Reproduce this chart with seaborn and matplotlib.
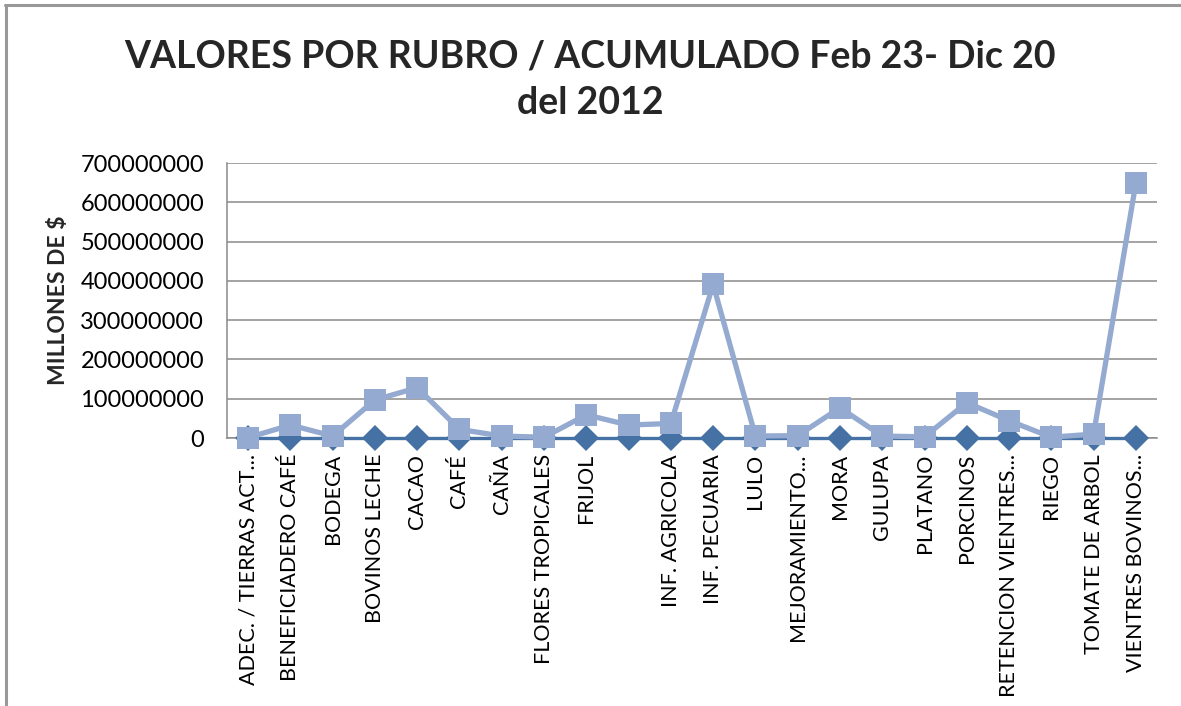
import pandas as pd
import matplotlib.pyplot as plt
import matplotlib.lines as mlines
import seaborn as sns

# ==================================================
# DATA
# ==================================================

categories = [
    "ADEC. / TIERRAS ACT...", "BENEFICIADERO CAFÉ", "BODEGA", "BOVINOS LECHE",
    "CACAO", "CAFÉ", "CAÑA", "FLORES TROPICALES", "FRIJOL", "",
    "INF. AGRICOLA", "INF. PECUARIA", "LULO", "MEJORAMIENTO...", "MORA",
    "GULUPA", "PLATANO", "PORCINOS", "RETENCION VIENTRES...", "RIEGO",
    "TOMATE DE ARBOL", "VIENTRES BOVINOS...",
]

serie_rombos = [0] * 22

serie_cuadros = [
    1000000, 33000000, 5000000, 97000000, 128000000, 22000000, 5000000,
    2000000, 59000000, 33000000, 37000000, 391000000, 5000000, 6000000,
    77000000, 5000000, 3000000, 90000000, 44000000, 2000000, 10000000,
    650000000,
]

y_ticks = [0, 100000000, 200000000, 300000000, 400000000, 500000000,
           600000000, 700000000]

titulo = "VALORES POR RUBRO / ACUMULADO Feb 23- Dic 20\ndel 2012"
ylabel = "MILLONES DE $"

df = pd.DataFrame({
    "pos": range(len(categories)),
    "rubro": categories,
    "rombos": serie_rombos,
    "cuadros": serie_cuadros,
})

# ==================================================
# STYLE
# ==================================================

sns.set_style("white")
plt.rcParams["font.family"] = ["Lato", "DejaVu Sans"]

color_rombos = "#4671A5"
color_cuadros = "#94AAD0"
gris = "#8A8A8A"

fig = plt.figure(figsize=(11.81, 7.06), dpi=100)
ax = fig.add_axes([0.1922, 0.3796, 0.7875, 0.3894])

sns.lineplot(
    data=df, x="pos", y="rombos", ax=ax,
    color=color_rombos, linewidth=2.4,
    marker="D", markersize=13, markeredgewidth=0,
    zorder=3, clip_on=False,
)

sns.lineplot(
    data=df, x="pos", y="cuadros", ax=ax,
    color=color_cuadros, linewidth=3.8,
    marker="s", markersize=16, markeredgewidth=0,
    zorder=4, clip_on=False,
)

# ==================================================
# AXES
# ==================================================

ax.set_xlim(-0.5, len(categories) - 0.5)
ax.set_ylim(0, 700000000)

ax.set_yticks(y_ticks)
ax.set_yticklabels([str(v) for v in y_ticks])
ax.set_xticks(df["pos"])
ax.set_xticklabels(categories, rotation=90, va="top", ha="center")

ax.yaxis.grid(True, color=gris, linewidth=1.1)
ax.set_axisbelow(True)

for side in ["top", "right"]:
    ax.spines[side].set_visible(False)
ax.spines["left"].set_color(gris)
ax.spines["bottom"].set_color(gris)
ax.spines["left"].set_linewidth(1.1)
ax.spines["bottom"].set_linewidth(1.1)

ax.tick_params(axis="y", length=3.5, color=gris, pad=13,
               labelsize=17, labelcolor="black")
ax.tick_params(axis="x", length=3.5, color=gris, pad=8,
               labelsize=15.5, labelcolor="black")

ax.set_xlabel("")
ax.set_ylabel(ylabel, fontsize=16.5, fontweight="bold")
ax.yaxis.set_label_coords(-0.17, 0.5)

fig.suptitle(
    titulo, x=0.5, y=0.944, va="top",
    fontsize=27, fontweight="bold", linespacing=1.45,
)

# borde del grafico
fig.add_artist(mlines.Line2D([0.005, 0.005], [0, 0.993],
                             transform=fig.transFigure, color="#999999", linewidth=2.2))
fig.add_artist(mlines.Line2D([0.004, 1], [0.993, 0.993],
                             transform=fig.transFigure, color="#999999", linewidth=2.2))

plt.savefig("out.png", dpi=100)
plt.close()
